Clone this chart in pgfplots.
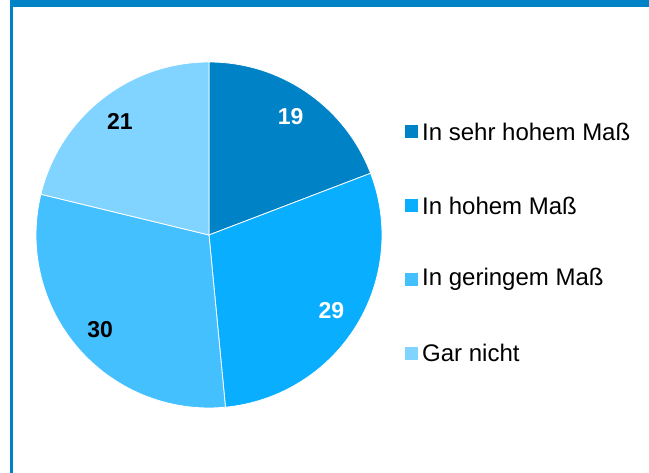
\documentclass[border=0pt]{standalone}
\usepackage{pgfplots}
\pgfplotsset{compat=1.18}
\usepackage{pgfplotstable}
\usepackage{fontspec}
\setmainfont{Liberation Sans}
\definecolor{c1}{HTML}{0082C6}
\definecolor{c2}{HTML}{0AAEFF}
\definecolor{c3}{HTML}{45C0FF}
\definecolor{c4}{HTML}{80D4FF}
\pgfplotstableread[col sep=comma]{
label,value,color,textcolor
In sehr hohem Maß,19,c1,white
In hohem Maß,29,c2,white
In geringem Maß,30,c3,black
Gar nicht,21,c4,black
}\piedata
\begin{document}
\begin{tikzpicture}
\begin{axis}[x=1pt,y=1pt,xmin=0,xmax=649,ymin=0,ymax=473,hide axis,clip=false,scale only axis]
\fill[white] (axis cs:0,0) rectangle (axis cs:649,473);
\fill[c1] (axis cs:10,466) rectangle (axis cs:649,473);
\fill[c1] (axis cs:10,0) rectangle (axis cs:12.5,473);
\pgfplotsextra{
  \gdef\total{0}
  \foreach \i in {0,...,3}{%
    \pgfplotstablegetelem{\i}{value}\of\piedata
    \pgfmathsetmacro\t{\total+\pgfplotsretval}\xdef\total{\t}}
  \gdef\cur{90}
  \foreach \i in {0,...,3}{%
    \pgfplotstablegetelem{\i}{value}\of\piedata \let\v\pgfplotsretval
    \pgfplotstablegetelem{\i}{color}\of\piedata \let\col\pgfplotsretval
    \pgfplotstablegetelem{\i}{textcolor}\of\piedata \let\tc\pgfplotsretval
    \pgfplotstablegetelem{\i}{label}\of\piedata \let\lab\pgfplotsretval
    \pgfmathsetmacro\sweep{\v/\total*360}
    \pgfmathsetmacro\en{\cur-\sweep}
    \pgfmathsetmacro\md{\cur-\sweep/2}
    \fill[fill=\col,draw=white,line width=0.8pt] (axis cs:209,238) -- ++(\cur:173pt) arc[start angle=\cur,end angle=\en,radius=173pt] -- cycle;
    \path (axis cs:209,238) ++(\md:144pt) node[text=\tc,font=\fontsize{23}{26}\selectfont\bfseries] {\v};
    \pgfmathsetmacro\yy{341-\i*73.7}
    \fill[fill=\col] (axis cs:405,\yy-6.5) rectangle (axis cs:418,\yy+6.5);
    \node[anchor=west,inner sep=0pt,font=\fontsize{24}{28}\selectfont] at (axis cs:422,\yy) {\lab};
    \xdef\cur{\en}
  }
}
\end{axis}
\end{tikzpicture}
\end{document}
